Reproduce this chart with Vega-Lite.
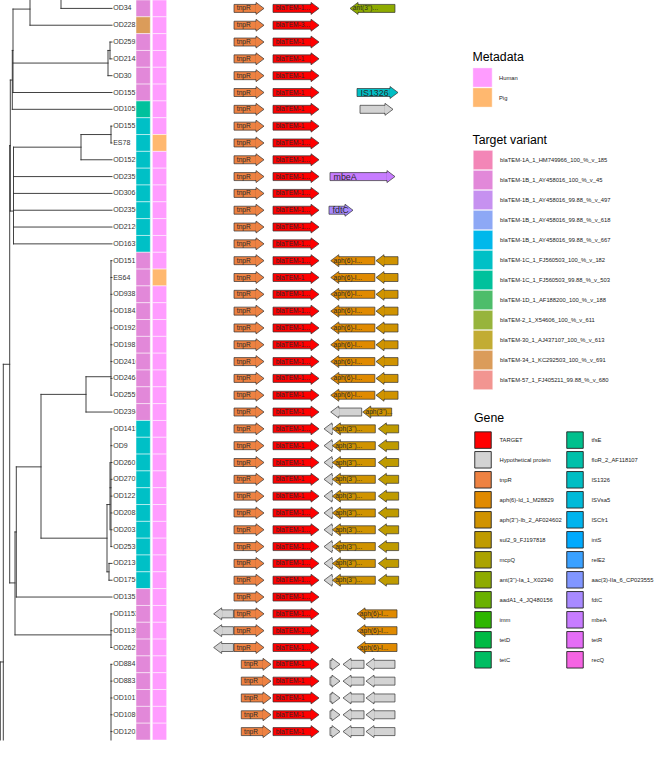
{
  "$schema": "https://vega.github.io/schema/vega-lite/v6.json",
  "width": 656,
  "height": 779,
  "autosize": "none",
  "padding": 0,
  "background": "white",
  "config": {"view": {"stroke": null}, "font": "Liberation Sans"},
  "datasets": {
    "tree": [
      {"x": 0.061, "x2": 0.061, "y": -0.5, "y2": 0},
      {"x": 0.030, "x2": 0.030, "y": -0.5, "y2": 1},
      {"x": 0.013, "x2": 0.013, "y": 0.04, "y2": 5},
      {"x": 0.0123, "x2": 0.0123, "y": 2.5, "y2": 6},
      {"x": 0.0103, "x2": 0.0103, "y": 4.26, "y2": 12.05},
      {"x": 0.0097, "x2": 0.0097, "y": 8.16, "y2": 34.16},
      {"x": 0.0033, "x2": 0.0033, "y": 21.16, "y2": 43.5},
      {"x": 0.0003, "x2": 0.0003, "y": 38.86, "y2": 43.5},
      {"x": 0.108, "x2": 0.108, "y": 2.5, "y2": 4},
      {"x": 0.110, "x2": 0.110, "y": 2, "y2": 3},
      {"x": 0.0135, "x2": 0.0135, "y": 8.25, "y2": 14},
      {"x": 0.081, "x2": 0.081, "y": 7.5, "y2": 9},
      {"x": 0.111, "x2": 0.111, "y": 7, "y2": 8},
      {"x": 0.041, "x2": 0.041, "y": 22.95, "y2": 31.5},
      {"x": 0.086, "x2": 0.086, "y": 21.9, "y2": 24},
      {"x": 0.111, "x2": 0.111, "y": 15, "y2": 23},
      {"x": 0.107, "x2": 0.107, "y": 29.5, "y2": 33.5},
      {"x": 0.111, "x2": 0.111, "y": 25, "y2": 32},
      {"x": 0.110, "x2": 0.110, "y": 27, "y2": 31},
      {"x": 0.109, "x2": 0.109, "y": 33, "y2": 34},
      {"x": 0.0163, "x2": 0.0163, "y": 27.26, "y2": 35},
      {"x": 0.015, "x2": 0.015, "y": 31.13, "y2": 37.25},
      {"x": 0.111, "x2": 0.111, "y": 36, "y2": 38},
      {"x": 0.111, "x2": 0.111, "y": 39, "y2": 43.5},
      {"x": 0.061, "x2": 0.112, "y": 0, "y2": 0},
      {"x": 0.030, "x2": 0.112, "y": 1, "y2": 1},
      {"x": 0.013, "x2": 0.030, "y": 0.04, "y2": 0.04},
      {"x": 0.013, "x2": 0.108, "y": 3.25, "y2": 3.25},
      {"x": 0.013, "x2": 0.112, "y": 5, "y2": 5},
      {"x": 0.0123, "x2": 0.013, "y": 2.5, "y2": 2.5},
      {"x": 0.0123, "x2": 0.112, "y": 6, "y2": 6},
      {"x": 0.0103, "x2": 0.0123, "y": 4.26, "y2": 4.26},
      {"x": 0.108, "x2": 0.110, "y": 2.5, "y2": 2.5},
      {"x": 0.110, "x2": 0.112, "y": 2, "y2": 2},
      {"x": 0.110, "x2": 0.112, "y": 3, "y2": 3},
      {"x": 0.108, "x2": 0.112, "y": 4, "y2": 4},
      {"x": 0.0103, "x2": 0.0135, "y": 12.05, "y2": 12.05},
      {"x": 0.0097, "x2": 0.0103, "y": 8.16, "y2": 8.16},
      {"x": 0.0135, "x2": 0.081, "y": 8.25, "y2": 8.25},
      {"x": 0.081, "x2": 0.111, "y": 7.5, "y2": 7.5},
      {"x": 0.111, "x2": 0.112, "y": 7, "y2": 7},
      {"x": 0.111, "x2": 0.112, "y": 8, "y2": 8},
      {"x": 0.081, "x2": 0.112, "y": 9, "y2": 9},
      {"x": 0.0135, "x2": 0.112, "y": 10, "y2": 10},
      {"x": 0.0135, "x2": 0.112, "y": 11, "y2": 11},
      {"x": 0.0135, "x2": 0.112, "y": 12, "y2": 12},
      {"x": 0.0135, "x2": 0.112, "y": 13, "y2": 13},
      {"x": 0.0135, "x2": 0.112, "y": 14, "y2": 14},
      {"x": 0.0033, "x2": 0.0097, "y": 21.16, "y2": 21.16},
      {"x": 0.0003, "x2": 0.0033, "y": 38.86, "y2": 38.86},
      {"x": 0.0097, "x2": 0.015, "y": 34.16, "y2": 34.16},
      {"x": 0.015, "x2": 0.0163, "y": 31.13, "y2": 31.13},
      {"x": 0.0163, "x2": 0.041, "y": 27.26, "y2": 27.26},
      {"x": 0.041, "x2": 0.086, "y": 22.95, "y2": 22.95},
      {"x": 0.086, "x2": 0.111, "y": 21.9, "y2": 21.9},
      {"x": 0.111, "x2": 0.112, "y": 15, "y2": 15},
      {"x": 0.111, "x2": 0.112, "y": 16, "y2": 16},
      {"x": 0.111, "x2": 0.112, "y": 17, "y2": 17},
      {"x": 0.111, "x2": 0.112, "y": 18, "y2": 18},
      {"x": 0.111, "x2": 0.112, "y": 19, "y2": 19},
      {"x": 0.111, "x2": 0.112, "y": 20, "y2": 20},
      {"x": 0.111, "x2": 0.112, "y": 21, "y2": 21},
      {"x": 0.111, "x2": 0.112, "y": 22, "y2": 22},
      {"x": 0.111, "x2": 0.112, "y": 23, "y2": 23},
      {"x": 0.086, "x2": 0.112, "y": 24, "y2": 24},
      {"x": 0.041, "x2": 0.107, "y": 31.5, "y2": 31.5},
      {"x": 0.107, "x2": 0.110, "y": 29.5, "y2": 29.5},
      {"x": 0.110, "x2": 0.111, "y": 28.5, "y2": 28.5},
      {"x": 0.111, "x2": 0.112, "y": 25, "y2": 25},
      {"x": 0.111, "x2": 0.112, "y": 26, "y2": 26},
      {"x": 0.111, "x2": 0.112, "y": 27, "y2": 27},
      {"x": 0.111, "x2": 0.112, "y": 28, "y2": 28},
      {"x": 0.111, "x2": 0.112, "y": 29, "y2": 29},
      {"x": 0.111, "x2": 0.112, "y": 30, "y2": 30},
      {"x": 0.111, "x2": 0.112, "y": 31, "y2": 31},
      {"x": 0.111, "x2": 0.112, "y": 32, "y2": 32},
      {"x": 0.107, "x2": 0.109, "y": 33.5, "y2": 33.5},
      {"x": 0.109, "x2": 0.112, "y": 33, "y2": 33},
      {"x": 0.109, "x2": 0.112, "y": 34, "y2": 34},
      {"x": 0.0163, "x2": 0.112, "y": 35, "y2": 35},
      {"x": 0.015, "x2": 0.111, "y": 37.25, "y2": 37.25},
      {"x": 0.111, "x2": 0.112, "y": 36, "y2": 36},
      {"x": 0.111, "x2": 0.112, "y": 37, "y2": 37},
      {"x": 0.111, "x2": 0.112, "y": 38, "y2": 38},
      {"x": 0.111, "x2": 0.112, "y": 39, "y2": 39},
      {"x": 0.111, "x2": 0.112, "y": 40, "y2": 40},
      {"x": 0.111, "x2": 0.112, "y": 41, "y2": 41},
      {"x": 0.111, "x2": 0.112, "y": 42, "y2": 42},
      {"x": 0.111, "x2": 0.112, "y": 43, "y2": 43}
    ],
    "tips": [
      {"row": 0, "label": "OD34", "variant": "blaTEM-1B_1_AY458016_100_%_v_45", "host": "Human"},
      {"row": 1, "label": "OD2283", "variant": "blaTEM-34_1_KC292503_100_%_v_691", "host": "Human"},
      {"row": 2, "label": "OD2593", "variant": "blaTEM-1B_1_AY458016_100_%_v_45", "host": "Human"},
      {"row": 3, "label": "OD2148", "variant": "blaTEM-1B_1_AY458016_100_%_v_45", "host": "Human"},
      {"row": 4, "label": "OD30", "variant": "blaTEM-1B_1_AY458016_100_%_v_45", "host": "Human"},
      {"row": 5, "label": "OD1557", "variant": "blaTEM-1B_1_AY458016_100_%_v_45", "host": "Human"},
      {"row": 6, "label": "OD1055", "variant": "blaTEM-1C_1_FJ560503_99.88_%_v_503", "host": "Human"},
      {"row": 7, "label": "OD1551", "variant": "blaTEM-1C_1_FJ560503_100_%_v_182", "host": "Human"},
      {"row": 8, "label": "ES78", "variant": "blaTEM-1C_1_FJ560503_100_%_v_182", "host": "Pig"},
      {"row": 9, "label": "OD1525", "variant": "blaTEM-1C_1_FJ560503_100_%_v_182", "host": "Human"},
      {"row": 10, "label": "OD2359", "variant": "blaTEM-1C_1_FJ560503_100_%_v_182", "host": "Human"},
      {"row": 11, "label": "OD306", "variant": "blaTEM-1C_1_FJ560503_100_%_v_182", "host": "Human"},
      {"row": 12, "label": "OD2350", "variant": "blaTEM-1C_1_FJ560503_100_%_v_182", "host": "Human"},
      {"row": 13, "label": "OD2120", "variant": "blaTEM-1C_1_FJ560503_100_%_v_182", "host": "Human"},
      {"row": 14, "label": "OD1635", "variant": "blaTEM-1C_1_FJ560503_100_%_v_182", "host": "Human"},
      {"row": 15, "label": "OD151", "variant": "blaTEM-1B_1_AY458016_100_%_v_45", "host": "Human"},
      {"row": 16, "label": "ES64", "variant": "blaTEM-1B_1_AY458016_100_%_v_45", "host": "Pig"},
      {"row": 17, "label": "OD938", "variant": "blaTEM-1B_1_AY458016_100_%_v_45", "host": "Human"},
      {"row": 18, "label": "OD1842", "variant": "blaTEM-1B_1_AY458016_100_%_v_45", "host": "Human"},
      {"row": 19, "label": "OD1928", "variant": "blaTEM-1B_1_AY458016_100_%_v_45", "host": "Human"},
      {"row": 20, "label": "OD1981", "variant": "blaTEM-1B_1_AY458016_100_%_v_45", "host": "Human"},
      {"row": 21, "label": "OD2410", "variant": "blaTEM-1B_1_AY458016_100_%_v_45", "host": "Human"},
      {"row": 22, "label": "OD2464", "variant": "blaTEM-1B_1_AY458016_100_%_v_45", "host": "Human"},
      {"row": 23, "label": "OD2559", "variant": "blaTEM-1B_1_AY458016_100_%_v_45", "host": "Human"},
      {"row": 24, "label": "OD2394", "variant": "blaTEM-1B_1_AY458016_100_%_v_45", "host": "Human"},
      {"row": 25, "label": "OD1415", "variant": "blaTEM-1C_1_FJ560503_100_%_v_182", "host": "Human"},
      {"row": 26, "label": "OD9", "variant": "blaTEM-1C_1_FJ560503_100_%_v_182", "host": "Human"},
      {"row": 27, "label": "OD2601", "variant": "blaTEM-1C_1_FJ560503_100_%_v_182", "host": "Human"},
      {"row": 28, "label": "OD2705", "variant": "blaTEM-1C_1_FJ560503_100_%_v_182", "host": "Human"},
      {"row": 29, "label": "OD122", "variant": "blaTEM-1C_1_FJ560503_100_%_v_182", "host": "Human"},
      {"row": 30, "label": "OD2088", "variant": "blaTEM-1C_1_FJ560503_100_%_v_182", "host": "Human"},
      {"row": 31, "label": "OD2033", "variant": "blaTEM-1C_1_FJ560503_100_%_v_182", "host": "Human"},
      {"row": 32, "label": "OD2536", "variant": "blaTEM-1C_1_FJ560503_100_%_v_182", "host": "Human"},
      {"row": 33, "label": "OD2130", "variant": "blaTEM-1C_1_FJ560503_100_%_v_182", "host": "Human"},
      {"row": 34, "label": "OD1750", "variant": "blaTEM-1C_1_FJ560503_100_%_v_182", "host": "Human"},
      {"row": 35, "label": "OD1353", "variant": "blaTEM-1B_1_AY458016_100_%_v_45", "host": "Human"},
      {"row": 36, "label": "OD1153", "variant": "blaTEM-1B_1_AY458016_100_%_v_45", "host": "Human"},
      {"row": 37, "label": "OD1139", "variant": "blaTEM-1B_1_AY458016_100_%_v_45", "host": "Human"},
      {"row": 38, "label": "OD2625", "variant": "blaTEM-1B_1_AY458016_100_%_v_45", "host": "Human"},
      {"row": 39, "label": "OD884", "variant": "blaTEM-1B_1_AY458016_100_%_v_45", "host": "Human"},
      {"row": 40, "label": "OD883", "variant": "blaTEM-1B_1_AY458016_100_%_v_45", "host": "Human"},
      {"row": 41, "label": "OD1017", "variant": "blaTEM-1B_1_AY458016_100_%_v_45", "host": "Human"},
      {"row": 42, "label": "OD1080", "variant": "blaTEM-1B_1_AY458016_100_%_v_45", "host": "Human"},
      {"row": 43, "label": "OD1203", "variant": "blaTEM-1B_1_AY458016_100_%_v_45", "host": "Human"}
    ],
    "genes": [
      {"row": 0, "gene": "tnpR", "start": -729, "end": -168, "strand": "+", "label": "tnpR"},
      {"row": 1, "gene": "tnpR", "start": -729, "end": -168, "strand": "+", "label": "tnpR"},
      {"row": 2, "gene": "tnpR", "start": -729, "end": -168, "strand": "+", "label": "tnpR"},
      {"row": 3, "gene": "tnpR", "start": -729, "end": -168, "strand": "+", "label": "tnpR"},
      {"row": 4, "gene": "tnpR", "start": -729, "end": -168, "strand": "+", "label": "tnpR"},
      {"row": 5, "gene": "tnpR", "start": -729, "end": -168, "strand": "+", "label": "tnpR"},
      {"row": 6, "gene": "tnpR", "start": -729, "end": -168, "strand": "+", "label": "tnpR"},
      {"row": 7, "gene": "tnpR", "start": -729, "end": -168, "strand": "+", "label": "tnpR"},
      {"row": 8, "gene": "tnpR", "start": -729, "end": -168, "strand": "+", "label": "tnpR"},
      {"row": 9, "gene": "tnpR", "start": -729, "end": -168, "strand": "+", "label": "tnpR"},
      {"row": 10, "gene": "tnpR", "start": -729, "end": -168, "strand": "+", "label": "tnpR"},
      {"row": 11, "gene": "tnpR", "start": -729, "end": -168, "strand": "+", "label": "tnpR"},
      {"row": 12, "gene": "tnpR", "start": -729, "end": -168, "strand": "+", "label": "tnpR"},
      {"row": 13, "gene": "tnpR", "start": -729, "end": -168, "strand": "+", "label": "tnpR"},
      {"row": 14, "gene": "tnpR", "start": -729, "end": -168, "strand": "+", "label": "tnpR"},
      {"row": 15, "gene": "tnpR", "start": -729, "end": -168, "strand": "+", "label": "tnpR"},
      {"row": 16, "gene": "tnpR", "start": -729, "end": -168, "strand": "+", "label": "tnpR"},
      {"row": 17, "gene": "tnpR", "start": -729, "end": -168, "strand": "+", "label": "tnpR"},
      {"row": 18, "gene": "tnpR", "start": -729, "end": -168, "strand": "+", "label": "tnpR"},
      {"row": 19, "gene": "tnpR", "start": -729, "end": -168, "strand": "+", "label": "tnpR"},
      {"row": 20, "gene": "tnpR", "start": -729, "end": -168, "strand": "+", "label": "tnpR"},
      {"row": 21, "gene": "tnpR", "start": -729, "end": -168, "strand": "+", "label": "tnpR"},
      {"row": 22, "gene": "tnpR", "start": -729, "end": -168, "strand": "+", "label": "tnpR"},
      {"row": 23, "gene": "tnpR", "start": -729, "end": -168, "strand": "+", "label": "tnpR"},
      {"row": 24, "gene": "tnpR", "start": -729, "end": -168, "strand": "+", "label": "tnpR"},
      {"row": 25, "gene": "tnpR", "start": -729, "end": -168, "strand": "+", "label": "tnpR"},
      {"row": 26, "gene": "tnpR", "start": -729, "end": -168, "strand": "+", "label": "tnpR"},
      {"row": 27, "gene": "tnpR", "start": -729, "end": -168, "strand": "+", "label": "tnpR"},
      {"row": 28, "gene": "tnpR", "start": -729, "end": -168, "strand": "+", "label": "tnpR"},
      {"row": 29, "gene": "tnpR", "start": -729, "end": -168, "strand": "+", "label": "tnpR"},
      {"row": 30, "gene": "tnpR", "start": -729, "end": -168, "strand": "+", "label": "tnpR"},
      {"row": 31, "gene": "tnpR", "start": -729, "end": -168, "strand": "+", "label": "tnpR"},
      {"row": 32, "gene": "tnpR", "start": -729, "end": -168, "strand": "+", "label": "tnpR"},
      {"row": 33, "gene": "tnpR", "start": -729, "end": -168, "strand": "+", "label": "tnpR"},
      {"row": 34, "gene": "tnpR", "start": -729, "end": -168, "strand": "+", "label": "tnpR"},
      {"row": 35, "gene": "tnpR", "start": -729, "end": -168, "strand": "+", "label": "tnpR"},
      {"row": 36, "gene": "tnpR", "start": -729, "end": -168, "strand": "+", "label": "tnpR"},
      {"row": 37, "gene": "tnpR", "start": -729, "end": -168, "strand": "+", "label": "tnpR"},
      {"row": 38, "gene": "tnpR", "start": -729, "end": -168, "strand": "+", "label": "tnpR"},
      {"row": 39, "gene": "tnpR", "start": -593, "end": -37, "strand": "+", "label": "tnpR"},
      {"row": 40, "gene": "tnpR", "start": -593, "end": -37, "strand": "+", "label": "tnpR"},
      {"row": 41, "gene": "tnpR", "start": -593, "end": -37, "strand": "+", "label": "tnpR"},
      {"row": 42, "gene": "tnpR", "start": -593, "end": -37, "strand": "+", "label": "tnpR"},
      {"row": 43, "gene": "tnpR", "start": -593, "end": -37, "strand": "+", "label": "tnpR"},
      {"row": 0, "gene": "TARGET", "start": 0, "end": 861, "strand": "+", "label": "blaTEM-1..."},
      {"row": 1, "gene": "TARGET", "start": 0, "end": 861, "strand": "+", "label": "blaTEM-3..."},
      {"row": 2, "gene": "TARGET", "start": 0, "end": 861, "strand": "+", "label": "blaTEM-1"},
      {"row": 3, "gene": "TARGET", "start": 0, "end": 861, "strand": "+", "label": "blaTEM-1"},
      {"row": 4, "gene": "TARGET", "start": 0, "end": 861, "strand": "+", "label": "blaTEM-1"},
      {"row": 5, "gene": "TARGET", "start": 0, "end": 861, "strand": "+", "label": "blaTEM-1"},
      {"row": 6, "gene": "TARGET", "start": 0, "end": 861, "strand": "+", "label": "blaTEM-1"},
      {"row": 7, "gene": "TARGET", "start": 0, "end": 861, "strand": "+", "label": "blaTEM-1"},
      {"row": 8, "gene": "TARGET", "start": 0, "end": 861, "strand": "+", "label": "blaTEM-1..."},
      {"row": 9, "gene": "TARGET", "start": 0, "end": 861, "strand": "+", "label": "blaTEM-1..."},
      {"row": 10, "gene": "TARGET", "start": 0, "end": 861, "strand": "+", "label": "blaTEM-1..."},
      {"row": 11, "gene": "TARGET", "start": 0, "end": 861, "strand": "+", "label": "blaTEM-1..."},
      {"row": 12, "gene": "TARGET", "start": 0, "end": 861, "strand": "+", "label": "blaTEM-1..."},
      {"row": 13, "gene": "TARGET", "start": 0, "end": 861, "strand": "+", "label": "blaTEM-1..."},
      {"row": 14, "gene": "TARGET", "start": 0, "end": 861, "strand": "+", "label": "blaTEM-1..."},
      {"row": 15, "gene": "TARGET", "start": 0, "end": 861, "strand": "+", "label": "blaTEM-1..."},
      {"row": 16, "gene": "TARGET", "start": 0, "end": 861, "strand": "+", "label": "blaTEM-1"},
      {"row": 17, "gene": "TARGET", "start": 0, "end": 861, "strand": "+", "label": "blaTEM-1..."},
      {"row": 18, "gene": "TARGET", "start": 0, "end": 861, "strand": "+", "label": "blaTEM-1..."},
      {"row": 19, "gene": "TARGET", "start": 0, "end": 861, "strand": "+", "label": "blaTEM-1..."},
      {"row": 20, "gene": "TARGET", "start": 0, "end": 861, "strand": "+", "label": "blaTEM-1..."},
      {"row": 21, "gene": "TARGET", "start": 0, "end": 861, "strand": "+", "label": "blaTEM-1..."},
      {"row": 22, "gene": "TARGET", "start": 0, "end": 861, "strand": "+", "label": "blaTEM-1..."},
      {"row": 23, "gene": "TARGET", "start": 0, "end": 861, "strand": "+", "label": "blaTEM-1"},
      {"row": 24, "gene": "TARGET", "start": 0, "end": 861, "strand": "+", "label": "blaTEM-1"},
      {"row": 25, "gene": "TARGET", "start": 0, "end": 861, "strand": "+", "label": "blaTEM-1..."},
      {"row": 26, "gene": "TARGET", "start": 0, "end": 861, "strand": "+", "label": "blaTEM-1"},
      {"row": 27, "gene": "TARGET", "start": 0, "end": 861, "strand": "+", "label": "blaTEM-1"},
      {"row": 28, "gene": "TARGET", "start": 0, "end": 861, "strand": "+", "label": "blaTEM-1"},
      {"row": 29, "gene": "TARGET", "start": 0, "end": 861, "strand": "+", "label": "blaTEM-1"},
      {"row": 30, "gene": "TARGET", "start": 0, "end": 861, "strand": "+", "label": "blaTEM-1..."},
      {"row": 31, "gene": "TARGET", "start": 0, "end": 861, "strand": "+", "label": "blaTEM-1..."},
      {"row": 32, "gene": "TARGET", "start": 0, "end": 861, "strand": "+", "label": "blaTEM-1..."},
      {"row": 33, "gene": "TARGET", "start": 0, "end": 861, "strand": "+", "label": "blaTEM-1..."},
      {"row": 34, "gene": "TARGET", "start": 0, "end": 861, "strand": "+", "label": "blaTEM-1..."},
      {"row": 35, "gene": "TARGET", "start": 0, "end": 861, "strand": "+", "label": "blaTEM-1..."},
      {"row": 36, "gene": "TARGET", "start": 0, "end": 861, "strand": "+", "label": "blaTEM-1..."},
      {"row": 37, "gene": "TARGET", "start": 0, "end": 861, "strand": "+", "label": "blaTEM-1..."},
      {"row": 38, "gene": "TARGET", "start": 0, "end": 861, "strand": "+", "label": "blaTEM-1..."},
      {"row": 39, "gene": "TARGET", "start": 0, "end": 861, "strand": "+", "label": "blaTEM-1"},
      {"row": 40, "gene": "TARGET", "start": 0, "end": 861, "strand": "+", "label": "blaTEM-1"},
      {"row": 41, "gene": "TARGET", "start": 0, "end": 861, "strand": "+", "label": "blaTEM-1"},
      {"row": 42, "gene": "TARGET", "start": 0, "end": 861, "strand": "+", "label": "blaTEM-1"},
      {"row": 43, "gene": "TARGET", "start": 0, "end": 861, "strand": "+", "label": "blaTEM-1"},
      {"row": 0, "gene": "ant(3'')-Ia_1_X02340", "start": 1440, "end": 2281, "strand": "-", "label": "ant(3'')..."},
      {"row": 5, "gene": "IS1326", "start": 1571, "end": 2338, "strand": "+", "label": "IS1326"},
      {"row": 6, "gene": "Hypothetical protein", "start": 1627, "end": 2244, "strand": "+", "label": ""},
      {"row": 10, "gene": "mbeA", "start": 1066, "end": 2281, "strand": "+", "label": "mbeA"},
      {"row": 12, "gene": "fdtC", "start": 1047, "end": 1496, "strand": "+", "label": "fdtC"},
      {"row": 15, "gene": "aph(6)-Id_1_M28829", "start": 1080, "end": 1905, "strand": "-", "label": "aph(6)-I..."},
      {"row": 16, "gene": "aph(6)-Id_1_M28829", "start": 1080, "end": 1905, "strand": "-", "label": "aph(6)-I..."},
      {"row": 17, "gene": "aph(6)-Id_1_M28829", "start": 1080, "end": 1905, "strand": "-", "label": "aph(6)-I..."},
      {"row": 18, "gene": "aph(6)-Id_1_M28829", "start": 1080, "end": 1905, "strand": "-", "label": "aph(6)-I..."},
      {"row": 19, "gene": "aph(6)-Id_1_M28829", "start": 1080, "end": 1905, "strand": "-", "label": "aph(6)-I..."},
      {"row": 20, "gene": "aph(6)-Id_1_M28829", "start": 1080, "end": 1905, "strand": "-", "label": "aph(6)-I..."},
      {"row": 21, "gene": "aph(6)-Id_1_M28829", "start": 1080, "end": 1905, "strand": "-", "label": "aph(6)-I..."},
      {"row": 22, "gene": "aph(6)-Id_1_M28829", "start": 1080, "end": 1905, "strand": "-", "label": "aph(6)-I..."},
      {"row": 23, "gene": "aph(6)-Id_1_M28829", "start": 1080, "end": 1905, "strand": "-", "label": "aph(6)-I..."},
      {"row": 15, "gene": "aph(3'')-Ib_2_AF024602", "start": 1926, "end": 2338, "strand": "-", "label": ""},
      {"row": 16, "gene": "aph(3'')-Ib_2_AF024602", "start": 1926, "end": 2338, "strand": "-", "label": ""},
      {"row": 17, "gene": "aph(3'')-Ib_2_AF024602", "start": 1926, "end": 2338, "strand": "-", "label": ""},
      {"row": 18, "gene": "aph(3'')-Ib_2_AF024602", "start": 1926, "end": 2338, "strand": "-", "label": ""},
      {"row": 19, "gene": "aph(3'')-Ib_2_AF024602", "start": 1926, "end": 2338, "strand": "-", "label": ""},
      {"row": 20, "gene": "aph(3'')-Ib_2_AF024602", "start": 1926, "end": 2338, "strand": "-", "label": ""},
      {"row": 21, "gene": "aph(3'')-Ib_2_AF024602", "start": 1926, "end": 2338, "strand": "-", "label": ""},
      {"row": 22, "gene": "aph(3'')-Ib_2_AF024602", "start": 1926, "end": 2338, "strand": "-", "label": ""},
      {"row": 23, "gene": "aph(3'')-Ib_2_AF024602", "start": 1926, "end": 2338, "strand": "-", "label": ""},
      {"row": 24, "gene": "Hypothetical protein", "start": 1079, "end": 1658, "strand": "-", "label": ""},
      {"row": 24, "gene": "aph(3'')-Ib_2_AF024602", "start": 1677, "end": 2219, "strand": "-", "label": "aph(3'')..."},
      {"row": 25, "gene": "Hypothetical protein", "start": 954, "end": 1110, "strand": "-", "label": ""},
      {"row": 26, "gene": "Hypothetical protein", "start": 954, "end": 1110, "strand": "-", "label": ""},
      {"row": 27, "gene": "Hypothetical protein", "start": 954, "end": 1110, "strand": "-", "label": ""},
      {"row": 28, "gene": "Hypothetical protein", "start": 954, "end": 1110, "strand": "-", "label": ""},
      {"row": 29, "gene": "Hypothetical protein", "start": 954, "end": 1110, "strand": "-", "label": ""},
      {"row": 30, "gene": "Hypothetical protein", "start": 954, "end": 1110, "strand": "-", "label": ""},
      {"row": 31, "gene": "Hypothetical protein", "start": 954, "end": 1110, "strand": "-", "label": ""},
      {"row": 32, "gene": "Hypothetical protein", "start": 954, "end": 1110, "strand": "-", "label": ""},
      {"row": 33, "gene": "Hypothetical protein", "start": 954, "end": 1110, "strand": "-", "label": ""},
      {"row": 34, "gene": "Hypothetical protein", "start": 954, "end": 1110, "strand": "-", "label": ""},
      {"row": 25, "gene": "aph(3'')-Ib_2_AF024602", "start": 1110, "end": 1913, "strand": "-", "label": "aph(3'')..."},
      {"row": 26, "gene": "aph(3'')-Ib_2_AF024602", "start": 1110, "end": 1913, "strand": "-", "label": "aph(3'')..."},
      {"row": 27, "gene": "aph(3'')-Ib_2_AF024602", "start": 1110, "end": 1913, "strand": "-", "label": "aph(3'')..."},
      {"row": 28, "gene": "aph(3'')-Ib_2_AF024602", "start": 1110, "end": 1913, "strand": "-", "label": "aph(3'')..."},
      {"row": 29, "gene": "aph(3'')-Ib_2_AF024602", "start": 1110, "end": 1913, "strand": "-", "label": "aph(3'')..."},
      {"row": 30, "gene": "aph(3'')-Ib_2_AF024602", "start": 1110, "end": 1913, "strand": "-", "label": "aph(3'')..."},
      {"row": 31, "gene": "aph(3'')-Ib_2_AF024602", "start": 1110, "end": 1913, "strand": "-", "label": "aph(3'')..."},
      {"row": 32, "gene": "aph(3'')-Ib_2_AF024602", "start": 1110, "end": 1913, "strand": "-", "label": "aph(3'')..."},
      {"row": 33, "gene": "aph(3'')-Ib_2_AF024602", "start": 1110, "end": 1913, "strand": "-", "label": "aph(3'')..."},
      {"row": 34, "gene": "aph(3'')-Ib_2_AF024602", "start": 1110, "end": 1913, "strand": "-", "label": "aph(3'')..."},
      {"row": 25, "gene": "sul2_9_FJ197818", "start": 1970, "end": 2350, "strand": "-", "label": ""},
      {"row": 26, "gene": "sul2_9_FJ197818", "start": 1970, "end": 2350, "strand": "-", "label": ""},
      {"row": 27, "gene": "sul2_9_FJ197818", "start": 1970, "end": 2350, "strand": "-", "label": ""},
      {"row": 28, "gene": "sul2_9_FJ197818", "start": 1970, "end": 2350, "strand": "-", "label": ""},
      {"row": 29, "gene": "sul2_9_FJ197818", "start": 1970, "end": 2350, "strand": "-", "label": ""},
      {"row": 30, "gene": "sul2_9_FJ197818", "start": 1970, "end": 2350, "strand": "-", "label": ""},
      {"row": 31, "gene": "sul2_9_FJ197818", "start": 1970, "end": 2350, "strand": "-", "label": ""},
      {"row": 32, "gene": "sul2_9_FJ197818", "start": 1970, "end": 2350, "strand": "-", "label": ""},
      {"row": 33, "gene": "sul2_9_FJ197818", "start": 1970, "end": 2350, "strand": "-", "label": ""},
      {"row": 34, "gene": "sul2_9_FJ197818", "start": 1970, "end": 2350, "strand": "-", "label": ""},
      {"row": 36, "gene": "Hypothetical protein", "start": -1110, "end": -740, "strand": "-", "label": ""},
      {"row": 37, "gene": "Hypothetical protein", "start": -1110, "end": -740, "strand": "-", "label": ""},
      {"row": 38, "gene": "Hypothetical protein", "start": -1110, "end": -740, "strand": "-", "label": ""},
      {"row": 36, "gene": "aph(6)-Id_1_M28829", "start": 1571, "end": 2319, "strand": "-", "label": "aph(6)-I..."},
      {"row": 37, "gene": "aph(6)-Id_1_M28829", "start": 1571, "end": 2319, "strand": "-", "label": "aph(6)-I..."},
      {"row": 38, "gene": "aph(6)-Id_1_M28829", "start": 1571, "end": 2319, "strand": "-", "label": "aph(6)-I..."},
      {"row": 39, "gene": "Hypothetical protein", "start": 1066, "end": 1253, "strand": "+", "label": ""},
      {"row": 40, "gene": "Hypothetical protein", "start": 1066, "end": 1253, "strand": "+", "label": ""},
      {"row": 41, "gene": "Hypothetical protein", "start": 1066, "end": 1253, "strand": "+", "label": ""},
      {"row": 42, "gene": "Hypothetical protein", "start": 1066, "end": 1253, "strand": "+", "label": ""},
      {"row": 43, "gene": "Hypothetical protein", "start": 1066, "end": 1253, "strand": "+", "label": ""},
      {"row": 39, "gene": "Hypothetical protein", "start": 1309, "end": 1702, "strand": "-", "label": ""},
      {"row": 40, "gene": "Hypothetical protein", "start": 1309, "end": 1702, "strand": "-", "label": ""},
      {"row": 41, "gene": "Hypothetical protein", "start": 1309, "end": 1702, "strand": "-", "label": ""},
      {"row": 42, "gene": "Hypothetical protein", "start": 1309, "end": 1702, "strand": "-", "label": ""},
      {"row": 43, "gene": "Hypothetical protein", "start": 1309, "end": 1702, "strand": "-", "label": ""},
      {"row": 39, "gene": "Hypothetical protein", "start": 1739, "end": 2281, "strand": "-", "label": ""},
      {"row": 40, "gene": "Hypothetical protein", "start": 1739, "end": 2281, "strand": "-", "label": ""},
      {"row": 41, "gene": "Hypothetical protein", "start": 1739, "end": 2281, "strand": "-", "label": ""},
      {"row": 42, "gene": "Hypothetical protein", "start": 1739, "end": 2281, "strand": "-", "label": ""},
      {"row": 43, "gene": "Hypothetical protein", "start": 1739, "end": 2281, "strand": "-", "label": ""}
    ]
  },
  "resolve": {"scale": {"x": "independent", "color": "independent"}},
  "layer": [
    {
      "data": {"name": "tree"},
      "mark": {"type": "rule", "color": "#2e2e2e", "strokeWidth": 0.9, "strokeCap": "square"},
      "encoding": {
        "x": {"field": "x", "type": "quantitative", "scale": {"domain": [0, 0.112], "range": [0, 112], "zero": false, "nice": false}, "axis": null},
        "x2": {"field": "x2"},
        "y": {"field": "y", "type": "quantitative", "scale": {"domain": [-0.5, 43.5], "range": [0, 740], "zero": false, "nice": false}, "axis": null},
        "y2": {"field": "y2"}
      }
    },
    {
      "data": {"name": "tips"},
      "mark": {"type": "text", "align": "left", "baseline": "middle", "dx": 1.2, "fontSize": 7, "color": "#333333"},
      "encoding": {
        "x": {"datum": 0.112, "type": "quantitative", "scale": {"domain": [0, 0.112], "range": [0, 112], "zero": false, "nice": false}, "axis": null},
        "y": {"field": "row", "type": "quantitative", "scale": {"domain": [-0.5, 43.5], "range": [0, 740], "zero": false, "nice": false}, "axis": null},
        "text": {"field": "label"}
      }
    },
    {
      "data": {"name": "tips"},
      "mark": {"type": "rect", "yOffset": -8.41, "y2Offset": 8.41, "stroke": "white", "strokeWidth": 0.5},
      "encoding": {
        "x": {"datum": "variant", "type": "nominal", "scale": {"type": "band", "domain": ["variant", "host"], "range": [136, 166.7], "paddingInner": 0.122, "paddingOuter": 0}, "axis": null},
        "y": {"field": "row", "type": "quantitative", "scale": {"domain": [-0.5, 43.5], "range": [0, 740], "zero": false, "nice": false}, "axis": null},
        "y2": {"field": "row"},
        "color": {
          "field": "variant", "type": "nominal",
          "scale": {
            "domain": ["blaTEM-1A_1_HM749966_100_%_v_185", "blaTEM-1B_1_AY458016_100_%_v_45", "blaTEM-1B_1_AY458016_99.88_%_v_497", "blaTEM-1B_1_AY458016_99.88_%_v_618", "blaTEM-1B_1_AY458016_99.88_%_v_667", "blaTEM-1C_1_FJ560503_100_%_v_182", "blaTEM-1C_1_FJ560503_99.88_%_v_503", "blaTEM-1D_1_AF188200_100_%_v_188", "blaTEM-2_1_X54606_100_%_v_611", "blaTEM-30_1_AJ437107_100_%_v_613", "blaTEM-34_1_KC292503_100_%_v_691", "blaTEM-57_1_FJ405211_99.88_%_v_680"],
            "range": ["#F386B7", "#E288D9", "#C691F0", "#8DA8F5", "#00B8EB", "#00C0C6", "#00C19C", "#4DBD6A", "#97B43C", "#C2AC33", "#DB9C5A", "#F29591"]
          },
          "legend": {"title": "Target variant", "orient": "none", "legendX": 472.5, "legendY": 133.5, "symbolType": "square", "symbolSize": 384, "symbolStrokeWidth": 0.5, "symbolStrokeColor": "white", "symbolOpacity": 1, "clipHeight": 19.5, "rowPadding": 0, "labelFontSize": 5.8, "labelOffset": 6.5, "labelColor": "#222222", "labelLimit": 400, "titleFontSize": 12.3, "titleFontWeight": "normal", "titleColor": "black", "titlePadding": 4.5, "symbolLimit": 50}
        }
      }
    },
    {
      "data": {"name": "tips"},
      "mark": {"type": "rect", "yOffset": -8.41, "y2Offset": 8.41, "stroke": "white", "strokeWidth": 0.5},
      "encoding": {
        "x": {"datum": "host", "type": "nominal", "scale": {"type": "band", "domain": ["variant", "host"], "range": [136, 166.7], "paddingInner": 0.122, "paddingOuter": 0}, "axis": null},
        "y": {"field": "row", "type": "quantitative", "scale": {"domain": [-0.5, 43.5], "range": [0, 740], "zero": false, "nice": false}, "axis": null},
        "y2": {"field": "row"},
        "color": {
          "field": "host", "type": "nominal",
          "scale": {"domain": ["Human", "Pig"], "range": ["#FF9CFF", "#FFB86F"]},
          "legend": {"title": "Metadata", "orient": "none", "legendX": 472.5, "legendY": 51, "symbolType": "square", "symbolSize": 376, "symbolStrokeWidth": 0.5, "symbolStrokeColor": "white", "symbolOpacity": 1, "clipHeight": 19.4, "rowPadding": 0, "labelFontSize": 5.8, "labelOffset": 6.5, "labelColor": "#222222", "titleFontSize": 12.3, "titleFontWeight": "normal", "titleColor": "black", "titlePadding": 4.5}
        }
      }
    },
    {
      "data": {"name": "genes"},
      "transform": [{"filter": "datum.strand === '+'"}],
      "mark": {"type": "rect", "x2Offset": -8, "yOffset": -4, "y2Offset": 4, "stroke": "#333333", "strokeWidth": 0.7},
      "encoding": {
        "x": {"field": "start", "type": "quantitative", "scale": {"domain": [-1870, 2805], "range": [173, 423], "zero": false, "nice": false}, "axis": null},
        "x2": {"field": "end"},
        "y": {"field": "row", "type": "quantitative", "scale": {"domain": [-0.5, 43.5], "range": [0, 740], "zero": false, "nice": false}, "axis": null},
        "y2": {"field": "row"},
        "color": {
          "field": "gene", "type": "nominal",
          "scale": {
            "domain": ["TARGET", "Hypothetical protein", "tnpR", "aph(6)-Id_1_M28829", "aph(3'')-Ib_2_AF024602", "sul2_9_FJ197818", "mcpQ", "ant(3'')-Ia_1_X02340", "aadA1_4_JQ480156", "imm", "tetD", "tetC", "tfsE", "floR_2_AF118107", "IS1326", "ISVsa5", "ISCfr1", "intS", "relE2", "aac(3)-IIa_6_CP023555", "fdtC", "mbeA", "tetR", "recQ"],
            "range": ["#FF0000", "#D3D3D3", "#EE8242", "#E08A00", "#D09300", "#BF9B00", "#ABA300", "#8EAB00", "#6AB100", "#2EB600", "#00BA44", "#00BD62", "#00C08D", "#00C0AA", "#00BEC4", "#00BAD9", "#00B4EE", "#00AAFE", "#3AA1FF", "#8196FF", "#A88AFF", "#C77CFF", "#E46DF6", "#F564E3"]
          },
          "legend": {"title": "Gene", "orient": "none", "legendX": 474, "legendY": 412.3, "columns": 2, "columnPadding": 4, "clipHeight": 19.4, "rowPadding": 0, "symbolType": "square", "symbolSize": 272, "symbolStrokeColor": "#222222", "symbolStrokeWidth": 0.9, "symbolOpacity": 1, "labelFontSize": 5.8, "labelOffset": 7.5, "labelColor": "#222222", "labelLimit": 400, "titleFontSize": 12.3, "titleFontWeight": "normal", "titleColor": "black", "titlePadding": 5.5, "symbolLimit": 50}
        }
      }
    },
    {
      "data": {"name": "genes"},
      "transform": [{"filter": "datum.strand === '-'"}],
      "mark": {"type": "rect", "xOffset": 8, "yOffset": -4, "y2Offset": 4, "stroke": "#333333", "strokeWidth": 0.7},
      "encoding": {
        "x": {"field": "start", "type": "quantitative", "scale": {"domain": [-1870, 2805], "range": [173, 423], "zero": false, "nice": false}, "axis": null},
        "x2": {"field": "end"},
        "y": {"field": "row", "type": "quantitative", "scale": {"domain": [-0.5, 43.5], "range": [0, 740], "zero": false, "nice": false}, "axis": null},
        "y2": {"field": "row"},
        "color": {
          "field": "gene", "type": "nominal",
          "scale": {
            "domain": ["TARGET", "Hypothetical protein", "tnpR", "aph(6)-Id_1_M28829", "aph(3'')-Ib_2_AF024602", "sul2_9_FJ197818", "mcpQ", "ant(3'')-Ia_1_X02340", "aadA1_4_JQ480156", "imm", "tetD", "tetC", "tfsE", "floR_2_AF118107", "IS1326", "ISVsa5", "ISCfr1", "intS", "relE2", "aac(3)-IIa_6_CP023555", "fdtC", "mbeA", "tetR", "recQ"],
            "range": ["#FF0000", "#D3D3D3", "#EE8242", "#E08A00", "#D09300", "#BF9B00", "#ABA300", "#8EAB00", "#6AB100", "#2EB600", "#00BA44", "#00BD62", "#00C08D", "#00C0AA", "#00BEC4", "#00BAD9", "#00B4EE", "#00AAFE", "#3AA1FF", "#8196FF", "#A88AFF", "#C77CFF", "#E46DF6", "#F564E3"]
          },
          "legend": null
        }
      }
    },
    {
      "data": {"name": "genes"},
      "transform": [{"filter": "datum.strand === '+'"}],
      "mark": {"type": "point", "shape": "M-1.45,-0.667L-1.333,-0.667L-1.333,-1L0,0L-1.333,1L-1.333,0.667L-1.45,0.667", "size": 144, "filled": true, "opacity": 1, "stroke": "#333333", "strokeWidth": 0.7},
      "encoding": {
        "x": {"field": "end", "type": "quantitative", "scale": {"domain": [-1870, 2805], "range": [173, 423], "zero": false, "nice": false}, "axis": null},
        "y": {"field": "row", "type": "quantitative", "scale": {"domain": [-0.5, 43.5], "range": [0, 740], "zero": false, "nice": false}, "axis": null},
        "color": {
          "field": "gene", "type": "nominal",
          "scale": {
            "domain": ["TARGET", "Hypothetical protein", "tnpR", "aph(6)-Id_1_M28829", "aph(3'')-Ib_2_AF024602", "sul2_9_FJ197818", "mcpQ", "ant(3'')-Ia_1_X02340", "aadA1_4_JQ480156", "imm", "tetD", "tetC", "tfsE", "floR_2_AF118107", "IS1326", "ISVsa5", "ISCfr1", "intS", "relE2", "aac(3)-IIa_6_CP023555", "fdtC", "mbeA", "tetR", "recQ"],
            "range": ["#FF0000", "#D3D3D3", "#EE8242", "#E08A00", "#D09300", "#BF9B00", "#ABA300", "#8EAB00", "#6AB100", "#2EB600", "#00BA44", "#00BD62", "#00C08D", "#00C0AA", "#00BEC4", "#00BAD9", "#00B4EE", "#00AAFE", "#3AA1FF", "#8196FF", "#A88AFF", "#C77CFF", "#E46DF6", "#F564E3"]
          },
          "legend": null
        }
      }
    },
    {
      "data": {"name": "genes"},
      "transform": [{"filter": "datum.strand === '-'"}],
      "mark": {"type": "point", "shape": "M1.45,-0.667L1.333,-0.667L1.333,-1L0,0L1.333,1L1.333,0.667L1.45,0.667", "size": 144, "filled": true, "opacity": 1, "stroke": "#333333", "strokeWidth": 0.7},
      "encoding": {
        "x": {"field": "start", "type": "quantitative", "scale": {"domain": [-1870, 2805], "range": [173, 423], "zero": false, "nice": false}, "axis": null},
        "y": {"field": "row", "type": "quantitative", "scale": {"domain": [-0.5, 43.5], "range": [0, 740], "zero": false, "nice": false}, "axis": null},
        "color": {
          "field": "gene", "type": "nominal",
          "scale": {
            "domain": ["TARGET", "Hypothetical protein", "tnpR", "aph(6)-Id_1_M28829", "aph(3'')-Ib_2_AF024602", "sul2_9_FJ197818", "mcpQ", "ant(3'')-Ia_1_X02340", "aadA1_4_JQ480156", "imm", "tetD", "tetC", "tfsE", "floR_2_AF118107", "IS1326", "ISVsa5", "ISCfr1", "intS", "relE2", "aac(3)-IIa_6_CP023555", "fdtC", "mbeA", "tetR", "recQ"],
            "range": ["#FF0000", "#D3D3D3", "#EE8242", "#E08A00", "#D09300", "#BF9B00", "#ABA300", "#8EAB00", "#6AB100", "#2EB600", "#00BA44", "#00BD62", "#00C08D", "#00C0AA", "#00BEC4", "#00BAD9", "#00B4EE", "#00AAFE", "#3AA1FF", "#8196FF", "#A88AFF", "#C77CFF", "#E46DF6", "#F564E3"]
          },
          "legend": null
        }
      }
    },
    {
      "data": {"name": "genes"},
      "transform": [{"filter": "datum.label !== '' && datum.gene !== 'IS1326' && datum.gene !== 'mbeA' && datum.gene !== 'fdtC'"}],
      "mark": {"type": "text", "align": "left", "baseline": "middle", "dx": 2.8, "fontSize": 6.6, "color": "#2a2a2a"},
      "encoding": {
        "x": {"field": "start", "type": "quantitative", "scale": {"domain": [-1870, 2805], "range": [173, 423], "zero": false, "nice": false}, "axis": null},
        "y": {"field": "row", "type": "quantitative", "scale": {"domain": [-0.5, 43.5], "range": [0, 740], "zero": false, "nice": false}, "axis": null},
        "text": {"field": "label"}
      }
    },
    {
      "data": {"name": "genes"},
      "transform": [{"filter": "datum.gene === 'IS1326' || datum.gene === 'mbeA' || datum.gene === 'fdtC'"}],
      "mark": {"type": "text", "align": "left", "baseline": "middle", "dx": 3.5, "fontSize": 8.9, "color": "#2a2a2a"},
      "encoding": {
        "x": {"field": "start", "type": "quantitative", "scale": {"domain": [-1870, 2805], "range": [173, 423], "zero": false, "nice": false}, "axis": null},
        "y": {"field": "row", "type": "quantitative", "scale": {"domain": [-0.5, 43.5], "range": [0, 740], "zero": false, "nice": false}, "axis": null},
        "text": {"field": "label"}
      }
    }
  ]
}
